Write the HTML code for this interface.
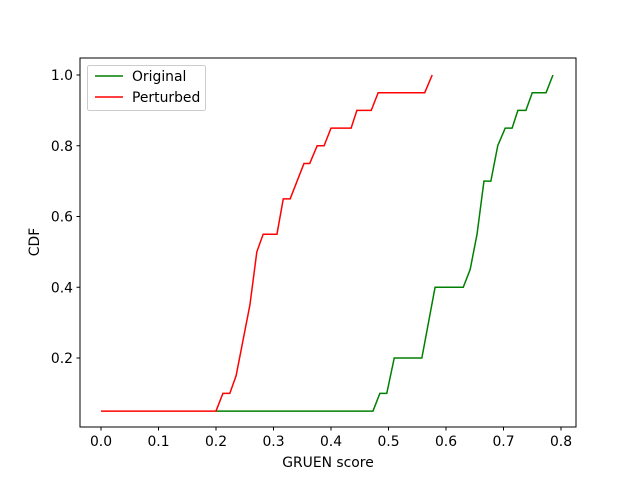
<!DOCTYPE html>
<html><head><meta charset="utf-8"><style>
body{margin:0;background:#fff;font-family:"Liberation Sans","DejaVu Sans",sans-serif}
text{font-family:"DejaVu Sans","Liberation Sans",sans-serif;font-size:13.9px;fill:#000}
</style></head><body>
<svg id="chart" width="640" height="480">
<rect x="0" y="0" width="640" height="480" fill="#fff"/>
<g id="plot"></g>
<rect x="80" y="58" width="496" height="369" fill="none" stroke="#000" stroke-width="1"/>
<g id="ticks"></g>
<text x="328" y="467" text-anchor="middle">GRUEN score</text>
<text transform="translate(39,242) rotate(-90)" text-anchor="middle">CDF</text>
<g>
<rect x="87.5" y="65.5" width="118" height="45" rx="2" fill="#fff" fill-opacity="0.8" stroke="#ccc"/>
<g><line x1="95" y1="76" x2="123" y2="76" stroke="green" stroke-width="1.5"/><text x="132" y="81">Original</text></g>
<g><line x1="95" y1="97" x2="123" y2="97" stroke="red" stroke-width="1.5"/><text x="132" y="102">Perturbed</text></g>
</g>
</svg>
<script>
const origX=[0.2,0.473,0.485,0.497,0.51,0.558,0.581,0.63,0.642,0.654,0.666,0.678,0.69,0.703,0.715,0.725,0.739,0.75,0.774,0.786];
const origY=[0.05,0.05,0.1,0.1,0.2,0.2,0.4,0.4,0.45,0.55,0.7,0.7,0.8,0.85,0.85,0.9,0.9,0.95,0.95,1.0];
const pertX=[0,0.2,0.212,0.224,0.235,0.259,0.271,0.282,0.306,0.317,0.329,0.353,0.363,0.376,0.388,0.4,0.435,0.445,0.47,0.482,0.563,0.576];
const pertY=[0.05,0.05,0.1,0.1,0.15,0.35,0.5,0.55,0.55,0.65,0.65,0.75,0.75,0.8,0.8,0.85,0.85,0.9,0.9,0.95,0.95,1.0];
const xTicks=[0,0.1,0.2,0.3,0.4,0.5,0.6,0.7,0.8];
const yTicks=[0.2,0.4,0.6,0.8,1.0];
const sx=v=>101+v*575;
const sy=v=>358-(v-0.2)*353.75;
const NS="http://www.w3.org/2000/svg";
const plot=document.getElementById('plot'),ticks=document.getElementById('ticks');
function line(xs,ys,color,name){
 const p=document.createElementNS(NS,'polyline');
 p.setAttribute('points',xs.map((x,i)=>sx(x)+','+sy(ys[i])).join(' '));
 p.setAttribute('fill','none');p.setAttribute('stroke',color);p.setAttribute('stroke-width','1.5');
 
 
 plot.appendChild(p);
}
line(origX,origY,'green','original-line');
line(pertX,pertY,'red','perturbed-line');
xTicks.forEach(v=>{
 const g=document.createElementNS(NS,'g');
 
 
 g.innerHTML=`<line x1="${sx(v)}" y1="427" x2="${sx(v)}" y2="430.5" stroke="#000"/><text x="${sx(v)}" y="446" text-anchor="middle">${v.toFixed(1)}</text>`;
 ticks.appendChild(g);
});
yTicks.forEach(v=>{
 const g=document.createElementNS(NS,'g');
 
 
 g.innerHTML=`<line x1="76.5" y1="${sy(v)}" x2="80" y2="${sy(v)}" stroke="#000"/><text x="73" y="${sy(v)+5}" text-anchor="end">${v.toFixed(1)}</text>`;
 ticks.appendChild(g);
});
</script>
</body></html>
